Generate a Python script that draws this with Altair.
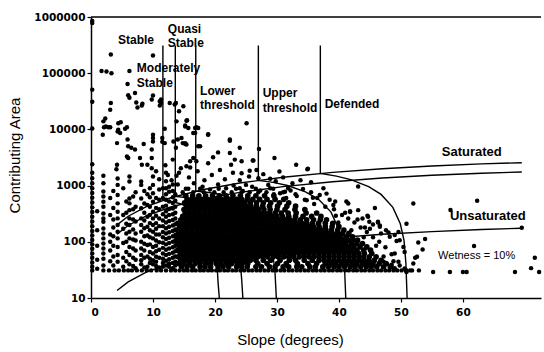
import altair as alt
import pandas as pd

# ---------------- scatter data (slope in degrees, contributing area) ----------------
# bottom row of cells (minimum contributing area)
row_min_area = 31
row_min_slopes = [2.0, 2.9, 3.8, 4.5, 5.3, 6.0, 6.6, 7.4, 8.2, 9.0, 9.7, 10.6, 11.3, 12.1, 12.9,
                  13.6, 14.3, 15.0, 15.6, 16.3, 16.9, 17.6, 18.2, 18.9, 19.5, 20.2, 20.8, 21.5,
                  22.1, 22.8, 23.4, 24.1, 24.7, 25.4, 26.0, 26.7, 27.3, 28.0, 28.6, 29.3, 29.9,
                  30.6, 31.2, 31.9, 32.5, 33.2, 33.8, 34.5, 35.1, 35.8, 36.4, 37.1, 37.7, 38.4,
                  39.0, 39.7, 40.3, 41.0, 41.6, 42.3, 42.9, 43.6, 44.2, 44.9, 45.5, 46.2, 46.8,
                  47.5, 48.1, 48.8, 49.4, 50.1, 50.9, 51.8, 52.9]

# dense cloud, one list of slopes per area level
row_areas = [36, 41, 47, 54, 62, 71, 81, 93, 107, 123, 141, 162, 186, 214, 246, 283, 325,
             374, 430, 495, 570, 660]
row_slopes = [
    [14.6, 15.5, 16.4, 17.6, 18.4, 19.3, 20.5, 21.3, 22.2, 23.5, 24.3, 25.2, 26.6, 27.5, 28.8, 29.7,
     31.0, 31.9, 33.2, 34.0, 35.3, 36.2, 37.4, 38.3, 39.2, 40.0, 40.9, 41.8, 42.6, 43.5, 44.4, 45.2,
     46.1, 47.2, 48.4],
    [14.2, 15.0, 15.9, 16.8, 17.6, 18.5, 19.3, 20.2, 21.0, 21.9, 22.7, 23.6, 24.4, 25.3, 26.9, 28.4,
     30.1, 31.5, 33.3, 35.0, 36.4, 37.8, 38.7, 39.5, 40.4, 41.2, 42.1, 42.9, 43.8, 44.6, 45.5, 46.5, 47.6],
    [14.5, 15.3, 16.1, 16.9, 17.7, 18.5, 19.3, 20.1, 20.9, 21.7, 22.5, 23.3, 24.1, 24.9, 25.7, 26.6,
     27.8, 29.0, 30.5, 32.0, 33.0, 34.4, 35.7, 36.8, 37.6, 38.4, 39.2, 40.0, 40.8, 41.6, 42.4, 43.2,
     44.0, 44.8, 45.7, 46.8],
    [14.1, 14.9, 15.7, 16.5, 17.3, 18.1, 18.9, 19.7, 20.5, 21.3, 22.1, 22.9, 23.7, 24.5, 25.3, 26.1,
     26.9, 27.7, 28.5, 29.4, 30.2, 31.1, 31.9, 32.7, 33.6, 34.4, 35.2, 36.0, 36.8, 37.6, 38.4, 39.2,
     40.0, 40.8, 41.6, 42.4, 43.2, 44.0, 44.9, 46.0],
    [14.4, 15.2, 16.0, 16.8, 17.6, 18.4, 19.2, 20.0, 20.8, 21.6, 22.4, 23.2, 24.0, 24.8, 25.6, 26.4,
     27.2, 28.0, 28.8, 29.6, 30.4, 31.2, 32.0, 32.8, 33.6, 34.4, 35.2, 36.0, 36.8, 37.6, 38.4, 39.2,
     40.0, 40.8, 41.6, 42.4, 43.2, 44.1, 45.3],
    [14.0, 14.8, 15.6, 16.4, 17.2, 18.0, 18.8, 19.6, 20.4, 21.2, 22.0, 22.8, 23.6, 24.4, 25.2, 26.0,
     26.8, 27.6, 28.4, 29.2, 30.0, 30.8, 31.6, 32.4, 33.2, 34.0, 34.8, 35.6, 36.4, 37.2, 38.0, 38.8,
     39.6, 40.4, 41.2, 42.0, 42.9, 44.0, 45.1],
    [14.3, 15.1, 15.9, 16.7, 17.5, 18.3, 19.1, 19.9, 20.7, 21.5, 22.3, 23.1, 23.9, 24.7, 25.5, 26.3,
     27.1, 27.9, 28.7, 29.5, 30.3, 31.1, 31.9, 32.7, 33.5, 34.3, 35.1, 35.9, 36.7, 37.5, 38.3, 39.1,
     39.9, 40.7, 41.5, 42.4, 43.4, 44.5],
    [13.9, 14.7, 15.5, 16.3, 17.1, 17.9, 18.7, 19.5, 20.3, 21.1, 21.9, 22.7, 23.5, 24.3, 25.1, 25.9,
     26.7, 27.5, 28.3, 29.1, 29.9, 30.7, 31.5, 32.3, 33.1, 33.9, 34.7, 35.5, 36.3, 37.1, 37.9, 38.7,
     39.5, 40.3, 41.1, 42.0, 42.9, 43.8],
    [14.2, 15.0, 15.8, 16.6, 17.4, 18.2, 19.0, 19.8, 20.6, 21.4, 22.2, 23.0, 23.8, 24.6, 25.4, 26.2,
     27.0, 27.8, 28.6, 29.4, 30.2, 31.0, 31.8, 32.6, 33.4, 34.2, 35.0, 35.8, 36.6, 37.4, 38.2, 39.0,
     39.8, 40.6, 41.4, 42.2, 43.0],
    [13.8, 14.6, 15.4, 16.2, 17.0, 17.8, 18.6, 19.4, 20.2, 21.0, 21.8, 22.6, 23.4, 24.2, 25.0, 25.8,
     26.6, 27.4, 28.2, 29.0, 29.8, 30.6, 31.4, 32.2, 33.0, 33.8, 34.6, 35.4, 36.2, 37.0, 37.8, 38.6,
     39.4, 40.2, 41.2, 42.2],
    [14.1, 14.9, 15.7, 16.5, 17.3, 18.1, 18.9, 19.7, 20.5, 21.3, 22.1, 22.9, 23.7, 24.5, 25.3, 26.1,
     26.9, 27.7, 28.5, 29.3, 30.1, 30.9, 31.7, 32.5, 33.3, 34.1, 34.9, 35.7, 36.5, 37.3, 38.1, 38.9,
     39.7, 40.6, 41.6],
    [13.9, 14.7, 15.5, 16.3, 17.1, 17.9, 18.7, 19.5, 20.3, 21.1, 21.9, 22.7, 23.5, 24.3, 25.1, 25.9,
     26.7, 27.5, 28.3, 29.1, 29.9, 30.7, 31.5, 32.3, 33.1, 33.9, 34.7, 35.5, 36.3, 37.1, 37.9, 38.8,
     39.8, 40.8],
    [14.3, 15.1, 15.9, 16.7, 17.5, 18.3, 19.1, 19.9, 20.7, 21.5, 22.3, 23.1, 23.9, 24.7, 25.5, 26.3,
     27.1, 27.9, 28.7, 29.5, 30.3, 31.1, 31.9, 32.7, 33.5, 34.3, 35.1, 35.9, 36.8, 37.8, 38.9, 40.0],
    [14.0, 14.8, 15.6, 16.4, 17.2, 18.0, 18.8, 19.6, 20.4, 21.2, 22.0, 22.8, 23.6, 24.4, 25.2, 26.0,
     26.8, 27.6, 28.4, 29.2, 30.0, 30.8, 31.6, 32.4, 33.2, 34.0, 34.8, 35.7, 36.7, 37.8, 39.0],
    [14.5, 15.3, 16.1, 16.9, 17.7, 18.5, 19.3, 20.1, 20.9, 21.7, 22.5, 23.3, 24.1, 24.9, 25.7, 26.5,
     27.3, 28.1, 28.9, 29.7, 30.5, 31.3, 32.1, 32.9, 33.8, 34.8, 35.9, 37.0, 38.0],
    [14.8, 15.6, 16.4, 17.2, 18.0, 18.8, 19.6, 20.4, 21.2, 22.0, 22.8, 23.6, 24.4, 25.2, 26.0, 26.8,
     27.6, 28.4, 29.2, 30.0, 30.9, 31.9, 33.0, 34.2, 35.6, 37.1],
    [15.2, 16.0, 16.8, 17.6, 18.4, 19.2, 20.0, 20.8, 21.6, 22.4, 23.2, 24.0, 24.8, 25.6, 26.4, 27.2,
     28.0, 28.8, 29.7, 30.7, 31.8, 33.1, 34.7, 36.4],
    [15.0, 15.8, 16.6, 17.4, 18.2, 19.0, 19.8, 20.6, 21.4, 22.2, 23.0, 23.8, 24.6, 25.4, 26.2, 27.0,
     27.9, 28.9, 30.0, 31.3, 32.9, 34.5],
    [15.4, 16.2, 17.0, 17.8, 18.6, 19.4, 20.2, 21.0, 21.8, 22.6, 23.4, 24.2, 25.0, 25.8, 26.7, 27.7,
     28.8, 30.1, 31.6, 33.0],
    [15.1, 15.9, 16.7, 17.5, 18.3, 19.1, 19.9, 20.7, 21.5, 22.3, 23.1, 23.9, 24.8, 25.7, 26.7, 27.8,
     29.0, 30.4, 31.9],
    [15.5, 16.3, 17.1, 17.9, 18.7, 19.5, 20.3, 21.1, 21.9, 22.7, 23.5, 24.3, 25.2, 26.1, 27.2, 28.4,
     29.7, 31.1],
    [15.3, 16.4, 17.4, 18.5, 19.6, 20.7, 21.8, 22.9, 24.1, 25.3, 26.6, 28.0, 29.5],
]

# moderately filled band just above the dense cloud
upper_areas = [760, 880]
upper_slopes = [
    [14.8, 16.5, 18.2, 19.9, 21.4, 22.7, 24.3, 25.6, 27.0, 28.3, 31.0],
    [15.7, 17.6, 20.6, 23.4, 26.6, 29.4],
]

# columns of cells at low slopes: one list of areas per slope
col_slopes = [0.2, 1.0, 2.0, 3.1, 3.6, 4.3, 5.2, 5.7, 6.2, 6.8, 7.2, 8.1, 8.6, 9.1, 9.5,
              10.0, 10.5, 11.0, 11.6, 12.1, 12.6, 13.2, 13.6]
col_areas = [
    [31, 36, 43, 52, 62, 75, 90, 108, 130, 156, 190, 230, 280, 340, 410, 500, 610, 740, 900, 1100,
     1350, 1700, 2400],
    [33, 48, 85, 160, 350],
    [38, 50, 62, 76, 93, 115, 141, 173, 228, 261, 320, 422, 518, 637, 782, 1100, 1500],
    [45, 70, 100, 135, 300, 600],
    [38, 55, 85, 125, 180, 250, 400, 800],
    [44, 58, 81, 115, 151, 199, 261, 343, 483, 682, 1030, 1340],
    [36, 52, 95, 170, 300, 900],
    [45, 66, 100, 140, 210, 330, 520],
    [40, 58, 81, 115, 151, 199, 261, 366, 483, 590, 1180, 1450],
    [37, 52, 76, 110, 165, 250, 380, 640],
    [34, 48, 70, 105, 140, 230, 420, 760],
    [40, 47, 58, 76, 100, 151, 199, 261, 394, 590, 1030, 1180],
    [35, 52, 70, 92, 125, 175, 240, 330, 480, 800],
    [36, 55, 88, 130, 185, 280, 450, 700],
    [42, 50, 66, 90, 120, 160, 215, 300, 420, 620, 900],
    [40, 47, 62, 81, 115, 151, 199, 261, 343, 518, 730, 1030, 1450],
    [37, 44, 54, 68, 85, 105, 135, 170, 215, 290, 400, 600],
    [35, 52, 72, 98, 135, 190, 260, 380, 560, 850, 1300],
    [36, 42, 50, 62, 78, 96, 120, 150, 190, 240, 310, 420, 600, 900],
    [38, 46, 58, 72, 90, 112, 140, 175, 220, 280, 350, 440, 560, 700, 900, 1200, 1700],
    [36, 41, 49, 61, 76, 95, 118, 148, 185, 235, 300, 385, 520, 780],
    [34, 42, 52, 64, 80, 100, 125, 155, 195, 245, 310, 390, 490, 620, 800, 1050],
    [38, 44, 55, 68, 85, 106, 132, 165, 205, 260, 330, 420, 540, 700],
]

# individually readable scattered cells (slope, area)
sparse_pts = [
    (0.2, 850000), (0.2, 780000), (0.2, 51000), (0.2, 31000), (0.2, 10400),
    (3.2, 216000), (1.7, 109000), (2.5, 107000), (3.3, 100000), (6.2, 109000), (5.9, 64500),
    (7.1, 44500), (6.0, 40500), (6.2, 36500), (7.3, 30000), (7.5, 24600), (8.2, 26700),
    (10.0, 207000), (10.0, 40000), (9.8, 34000), (3.2, 29600), (3.1, 22400), (2.3, 15600),
    (2.0, 13900), (2.4, 11300), (2.8, 10900), (1.9, 8030), (4.7, 8600), (4.4, 12900),
    (5.8, 10900), (4.2, 5700), (5.9, 6600), (6.0, 5000), (6.5, 4700), (7.1, 4400), (5.8, 3300),
    (6.0, 3100), (4.2, 2350), (4.1, 1950), (7.9, 3100), (8.2, 2350), (8.5, 5500), (10.0, 8030),
    (10.0, 7000), (10.0, 6100), (9.8, 4400), (9.8, 3100), (9.8, 2030), (9.1, 2350),
    (11.1, 31600), (11.1, 26700), (12.7, 29600), (13.5, 27700), (11.5, 7000), (11.5, 6000),
    (11.9, 5700), (13.3, 6100), (14.0, 6600), (14.8, 5700), (15.2, 5500), (13.7, 4700),
    (14.5, 2030), (13.2, 2900), (16.8, 8600), (16.5, 3100), (17.0, 2700), (16.0, 2700),
    (17.3, 5000), (12.4, 1550), (13.8, 1500), (8.3, 28600), (11.3, 34000), (11.3, 29600),
    (13.7, 29600), (14.2, 21000), (14.9, 25900), (15.4, 14300), (15.2, 11300), (13.8, 13900),
    (11.9, 10300), (17.0, 10900), (17.3, 10600), (18.9, 8200), (22.4, 6600), (25.1, 12900),
    (2.1, 10900), (3.1, 10900), (4.4, 9900), (4.3, 9200), (5.5, 10300), (4.8, 13400),
    (15.5, 14600), (15.2, 11700), (15.7, 10600), (14.6, 7000), (15.2, 5700), (15.4, 5400),
    (15.4, 2200), (16.0, 2100), (16.8, 10600), (16.5, 8600), (18.9, 8000), (17.6, 5000),
    (18.9, 2500), (19.7, 3200), (20.5, 3900), (22.4, 6300), (24.0, 4700), (22.4, 3800),
    (23.2, 2900), (22.6, 2350), (26.1, 2800), (27.1, 4500), (26.7, 1900), (29.6, 3100),
    (30.4, 1780), (33.1, 2350), (34.9, 1950), (24.3, 2700), (26.2, 2800), (35.0, 2000),
    (24.3, 1660), (25.6, 1830), (28.9, 1320), (25.0, 1030), (24.0, 900), (28.6, 1030),
    (28.9, 900), (30.5, 730), (31.3, 780), (34.2, 870), (37.5, 900), (36.9, 680), (39.9, 220),
    (43.1, 960), (41.2, 520), (41.8, 350), (44.2, 180), (45.8, 400), (44.7, 280), (46.3, 220),
    (46.6, 195), (47.6, 160), (48.0, 147), (49.3, 103), (50.9, 210), (52.0, 480),
    (62.3, 540), (58.0, 368), (69.5, 178), (52.8, 97), (53.9, 112), (53.5, 73), (61.8, 84),
    (50.6, 33.5), (50.9, 29), (52.3, 52), (52.6, 54), (52.0, 41), (55.2, 29), (57.9, 29),
    (60.0, 29), (60.6, 29), (68.4, 29), (71.0, 34), (71.6, 52), (72.3, 29),
    (41.5, 480), (41.8, 340), (44.6, 290), (39.1, 450), (39.4, 520), (34.8, 550), (35.8, 610),
    (43.1, 366), (43.8, 260), (44.9, 228), (45.5, 204), (46.3, 228), (46.6, 185), (48.2, 123),
    (49.0, 132), (49.6, 150), (49.8, 107), (50.4, 81), (50.6, 66), (49.0, 62), (49.6, 44),
    (50.8, 31), (51.5, 31), (48.5, 39), (49.0, 34), (48.2, 35), (47.2, 44), (46.1, 36), (45.0, 44),
    (31.5, 600), (33.0, 700), (34.5, 560), (36.0, 470), (37.8, 420), (39.2, 380), (32.2, 820),
    (35.5, 760), (38.5, 560), (40.5, 300), (41.5, 260), (42.5, 220), (43.5, 180), (44.5, 150),
    (45.5, 120), (46.5, 100), (47.5, 80), (48.5, 60), (46.8, 140), (45.0, 170), (43.0, 250),
    (41.0, 330), (39.5, 290), (42.0, 160), (44.0, 120), (46.0, 85), (47.2, 55), (48.8, 45),
    (49.8, 38), (47.8, 40),
    (10.5, 1800), (12.0, 2300), (13.0, 1250), (14.2, 1700), (15.8, 1400), (17.2, 1800),
    (18.3, 1250), (19.5, 1550), (20.8, 1900), (21.6, 1300), (22.9, 1700), (24.0, 1250),
    (25.5, 1450), (27.0, 1350), (27.8, 1600), (29.8, 1200), (31.0, 1400), (32.5, 1100),
    (33.8, 1250), (35.5, 1150), (12.6, 950), (14.0, 1050), (15.3, 880), (16.6, 1100),
    (18.0, 950), (19.2, 850), (20.5, 1050), (21.8, 900), (23.0, 1000), (24.5, 800), (26.0, 950),
    (27.3, 820), (29.5, 700), (31.8, 900), (33.2, 650), (36.5, 600), (38.0, 720),
]

# ---------------- reference lines ----------------
line_slope = [4.2, 6, 9, 13, 18, 24, 31, 39, 47, 55, 63, 69.5]
sat_upper = [200, 285, 427, 614, 844, 1110, 1406, 1718, 1997, 2236, 2432, 2557]
sat_lower = [137, 195, 292, 420, 576, 758, 960, 1174, 1364, 1528, 1662, 1747]
wet_10 = [13.6, 19.4, 29.1, 41.9, 57.5, 75.6, 95.8, 117, 136, 152, 166, 174]

si_stable = [(11.6, 310000), (11.6, 549), (13.0, 522), (14.4, 476), (16.3, 382), (17.6, 289),
             (19.0, 177), (19.8, 93), (20.3, 47), (20.5, 19), (20.7, 10)]
si_moderate = [(13.6, 310000), (13.6, 642), (15.3, 613), (17.0, 559), (19.2, 450), (20.9, 340),
               (22.4, 208), (23.5, 109), (24.0, 55), (24.3, 22), (24.5, 10)]
si_quasi = [(16.9, 310000), (16.9, 794), (19.0, 755), (21.1, 686), (23.7, 549), (25.6, 413),
            (27.5, 252), (28.7, 131), (29.3, 67), (29.7, 27), (29.9, 10)]
si_lower = [(27.0, 310000), (27.0, 1240), (29.4, 1140), (31.7, 1005), (34.6, 776), (36.7, 571),
            (38.7, 341), (39.9, 175), (40.5, 89), (40.9, 36), (41.1, 10)]
si_upper = [(37.0, 310000), (37.0, 1643), (39.6, 1477), (41.9, 1276), (44.8, 962), (46.8, 697),
            (48.7, 410), (49.9, 209), (50.5, 106), (50.8, 42), (51.0, 10)]
top_frame = [(0, 1000000), (72.6, 1000000)]

# ---------------- annotations ----------------
label_text = ["Stable", "Quasi", "Stable", "Moderately", "Stable", "Lower", "threshold",
              "Upper", "threshold", "Defended"]
label_slope = [4.35, 12.4, 12.4, 7.4, 7.4, 17.6, 17.6, 27.7, 27.7, 37.7]
label_area = [390000, 624000, 344000, 124000, 68200, 48200, 27200, 44400, 24000, 28300]
big_text = ["Saturated", "Unsaturated"]
big_slope = [56.6, 57.9]
big_area = [3960, 288]
small_text = ["Wetness = 10%"]
small_slope = [56.0]
small_area = [55.8]

# ---------------- build tables ----------------
dense = []
for a, sl in zip(row_areas, row_slopes):
    dense += [(s, a) for s in sl]
dense_df = pd.DataFrame(dense, columns=["slope", "area"])

pts = [(s, row_min_area) for s in row_min_slopes]
for a, sl in zip(upper_areas, upper_slopes):
    pts += [(s, a) for s in sl]
for s, al in zip(col_slopes, col_areas):
    pts += [(s, a) for a in al]
pts += sparse_pts
pts_df = pd.DataFrame(pts, columns=["slope", "area"])

lines = []
for name, vals in [("upper", sat_upper), ("lower", sat_lower), ("wet", wet_10)]:
    lines += [(name, i, s, a) for i, (s, a) in enumerate(zip(line_slope, vals))]
for name, seq in [("si1", si_stable), ("si2", si_moderate), ("si3", si_quasi),
                  ("si4", si_lower), ("si5", si_upper), ("frame", top_frame)]:
    lines += [(name, i, s, a) for i, (s, a) in enumerate(seq)]
lines_df = pd.DataFrame(lines, columns=["grp", "ord", "slope", "area"])

lab_df = pd.DataFrame({"slope": label_slope, "area": label_area, "txt": label_text})
big_df = pd.DataFrame({"slope": big_slope, "area": big_area, "txt": big_text})
small_df = pd.DataFrame({"slope": small_slope, "area": small_area, "txt": small_text})

# ---------------- chart ----------------
xscale = alt.Scale(domain=[0, 72.6], nice=False, zero=False)
yscale = alt.Scale(type="log", domain=[10, 1000000], nice=False)
xaxis = alt.Axis(values=[0, 10, 20, 30, 40, 50, 60], title="Slope (degrees)", grid=False,
                 tickSize=4, tickColor="black", tickWidth=1.2, domainColor="black",
                 domainWidth=1.5, labelFont="DejaVu Sans", labelFontWeight="bold",
                 labelFontSize=10.5, labelColor="black", labelPadding=5,
                 titleFont="Liberation Sans", titleFontSize=15, titleFontWeight="normal",
                 titleColor="black", titleX=199, titleY=46, titleAlign="center",
                 titleBaseline="alphabetic")
yaxis = alt.Axis(values=[10, 100, 1000, 10000, 100000, 1000000], format="d",
                 title="Contributing Area", grid=False, tickSize=4, tickColor="black",
                 tickWidth=1.2, domainColor="black", domainWidth=1.5,
                 labelFont="DejaVu Sans", labelFontWeight="bold", labelFontSize=10.5,
                 labelColor="black", labelPadding=2, titleFont="Liberation Sans",
                 titleFontSize=15, titleFontWeight="normal", titleColor="black",
                 titleX=-72, titleY=138, titleAngle=270, titleAlign="center",
                 titleBaseline="alphabetic")

X = alt.X("slope:Q", scale=xscale, axis=xaxis)
Y = alt.Y("area:Q", scale=yscale, axis=yaxis)

points = alt.Chart(pts_df).mark_circle(size=20, color="black", opacity=1).encode(x=X, y=Y)
cloud = alt.Chart(dense_df).mark_circle(size=32, color="black", opacity=1).encode(x=X, y=Y)
curves = alt.Chart(lines_df).mark_line(color="black", strokeWidth=1.4).encode(
    x=X, y=Y, detail="grp:N", order="ord:Q")
labels = alt.Chart(lab_df).mark_text(align="left", baseline="middle", font="Liberation Sans",
                                     fontSize=12, fontWeight="bold", color="black").encode(
    x=X, y=Y, text="txt:N")
big = alt.Chart(big_df).mark_text(align="left", baseline="middle", font="Liberation Sans",
                                  fontSize=13, fontWeight="bold", color="black").encode(
    x=X, y=Y, text="txt:N")
small = alt.Chart(small_df).mark_text(align="left", baseline="middle", font="Liberation Sans",
                                      fontSize=11, color="black").encode(
    x=X, y=Y, text="txt:N")

chart = alt.layer(cloud, points, curves, labels, big, small).properties(
    width=450, height=281,
    padding={"left": 91, "top": 17, "right": 3, "bottom": 54},
    autosize=alt.AutoSizeParams(type="none"),
    background="white",
).configure_view(strokeWidth=0)

chart.save("out.html", embed_options={"renderer": "svg", "actions": False})
